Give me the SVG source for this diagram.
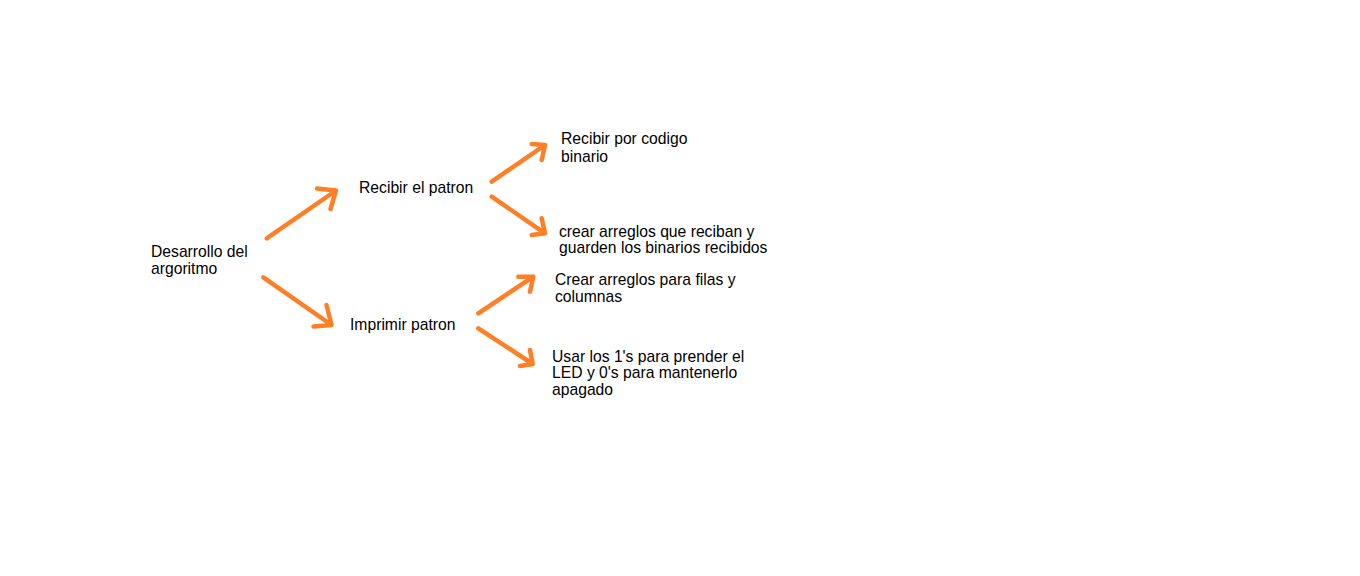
<svg xmlns="http://www.w3.org/2000/svg" width="1360" height="576" viewBox="0 0 1360 576">
<style>
text{font-family:"Liberation Sans",Arial,sans-serif;font-size:15.7px;fill:#000}
.a{fill:none;stroke:#FF7F27;stroke-width:4.5;stroke-linecap:round;stroke-linejoin:round}
</style>
<rect width="1360" height="576" fill="#fff"/>
<g id="connectors">
<path class="a" d="M266.7 238.3L336 190.5M317 188.5L336 190.5L330.5 209"/>
<path class="a" d="M263.3 277.3L331.5 325M313.5 326.5L331.5 325L326.5 305"/>
<path class="a" d="M491.7 181.7L545 145M531.7 144L545 145L541.7 160"/>
<path class="a" d="M491.7 196.7L545 233.3M541.7 218.3L545 233.3L531.7 235"/>
<path class="a" d="M478.3 313.3L533.3 276.7M518.3 276.7L533.3 276.7L530 291.7"/>
<path class="a" d="M478.3 328.3L532.7 364M530 350L532.7 364L520 366"/>
</g>
<g id="root"><text x="151" y="257">Desarrollo del</text><text x="151" y="274">argoritmo</text></g>
<g id="recibir"><text x="359" y="193">Recibir el patron</text></g>
<g id="imprimir"><text x="350" y="330">Imprimir patron</text></g>
<g id="codigo"><text x="561" y="144">Recibir por codigo</text><text x="561" y="161.5">binario</text></g>
<g id="arreglos"><text x="559" y="236.5">crear arreglos que reciban y</text><text x="559" y="253">guarden los binarios recibidos</text></g>
<g id="filas"><text x="555" y="285">Crear arreglos para filas y</text><text x="555" y="301.7">columnas</text></g>
<g id="usar"><text x="552" y="361.5">Usar los 1's para prender el</text><text x="552" y="378.3">LED y 0's para mantenerlo</text><text x="552" y="395">apagado</text></g>
</svg>
